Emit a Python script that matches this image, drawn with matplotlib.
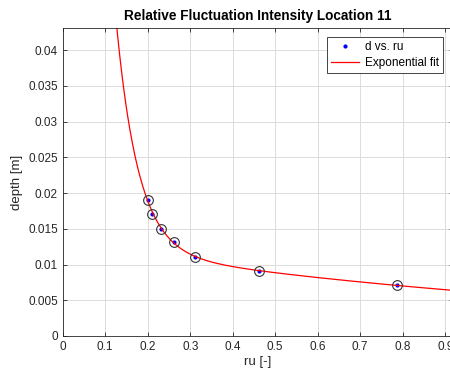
import matplotlib.pyplot as plt
import numpy as np
from matplotlib.ticker import FuncFormatter

plt.rcParams['font.family'] = ['Liberation Sans', 'DejaVu Sans']

ru = np.array([0.200, 0.211, 0.232, 0.263, 0.311, 0.462, 0.786])
depth = np.array([0.0191, 0.0171, 0.0150, 0.01315, 0.0111, 0.0091, 0.0071])


def fit_exp2(x, y):
    """Two-term exponential fit a*exp(b*x) + c*exp(d*x), brute force on b, d."""
    best = None
    for b in np.linspace(-40, -2, 191):
        for d in np.linspace(-3, 0.5, 141):
            A = np.column_stack([np.exp(b * x), np.exp(d * x)])
            coef, *_ = np.linalg.lstsq(A, y, rcond=None)
            err = np.sum((A @ coef - y) ** 2)
            if best is None or err < best[0]:
                best = (err, coef[0], b, coef[1], d)
    return best[1:]


a, b, c, d = fit_exp2(ru, depth)
xf = np.linspace(0.05, 1.0, 600)
yf = a * np.exp(b * xf) + c * np.exp(d * xf)

fig = plt.figure(figsize=(4.5, 3.74), dpi=100)
# axes runs slightly past the right edge of the figure, as in the original
ax = fig.add_axes([62.7 / 450, 38 / 374, 390.5 / 450, 308 / 374])

ax.plot(ru, depth, '.', color='blue', markersize=4, label='d vs. ru')
ax.plot(xf, yf, '-', color='red', linewidth=0.9, label='Exponential fit')
ax.plot(ru, depth, 'o', mfc='none', mec='#333333', markersize=7, markeredgewidth=0.8)

ax.set_xlim(0, 390.5 / 425)
ax.set_ylim(0, 0.0431)
ax.set_xticks(np.arange(0, 0.91, 0.1))
ax.set_yticks(np.arange(0, 0.0401, 0.005))
fmt = FuncFormatter(lambda v, p: '%g' % round(v, 4))
ax.xaxis.set_major_formatter(fmt)
ax.yaxis.set_major_formatter(fmt)
ax.grid(True, color='#dcdcdc', linewidth=0.7)
ax.set_axisbelow(True)
ax.tick_params(direction='in', top=True, right=True, labelsize=8.5,
               colors='#262626', length=3, width=0.6)
for s in ax.spines.values():
    s.set_color('#262626')
    s.set_linewidth(0.6)

ax.set_xlabel('ru [-]', fontsize=9.5, color='#262626', labelpad=2)
ax.set_ylabel('depth [m]', fontsize=9.5, color='#262626', labelpad=4)
ax.set_title('Relative Fluctuation Intensity Location 11', fontsize=9.8,
             fontweight='bold', pad=6)

leg = ax.legend(loc='upper right', bbox_to_anchor=(443 / 450, 1 - 37 / 374),
                bbox_transform=fig.transFigure, fontsize=8.5, fancybox=False,
                framealpha=1, edgecolor='#262626', borderpad=0.35,
                handlelength=2.4, handletextpad=0.5, labelspacing=0.3,
                borderaxespad=0)
leg.get_frame().set_linewidth(0.6)

plt.savefig('out.png', dpi=100)
